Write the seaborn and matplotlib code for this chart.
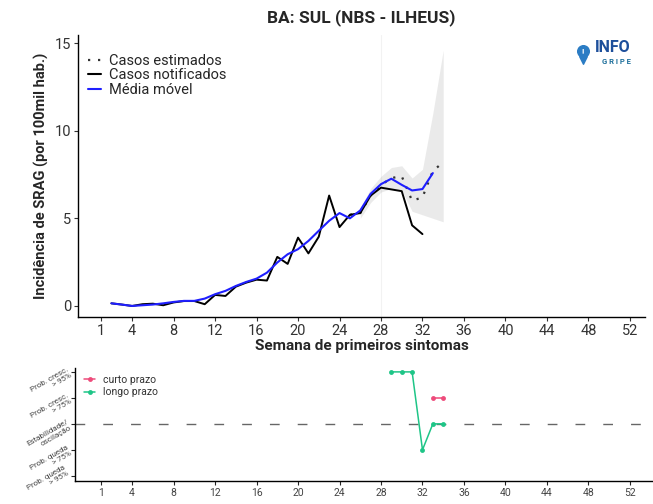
import matplotlib
matplotlib.use("Agg")
import matplotlib.pyplot as plt
from matplotlib.lines import Line2D
import pandas as pd
import seaborn as sns

# --- data ------------------------------------------------------------------
weeks_notif = list(range(2, 33))
casos_notif = [0.15, 0.08, 0.0, 0.1, 0.13, 0.04, 0.2, 0.28, 0.28, 0.1,
               0.63, 0.57, 1.1, 1.33, 1.5, 1.45, 2.8, 2.4, 3.9, 3.0,
               3.95, 6.3, 4.5, 5.2, 5.3, 6.3, 6.75, 6.65, 6.55, 4.6, 4.1]

weeks_mm = list(range(2, 34))
media_movel = [0.15, 0.08, 0.0, 0.04, 0.08, 0.15, 0.23, 0.29, 0.29, 0.42,
               0.67, 0.86, 1.14, 1.37, 1.56, 1.9, 2.48, 2.95, 3.24, 3.71,
               4.29, 4.86, 5.3, 5.0, 5.45, 6.4, 6.95, 7.26, 6.91, 6.59,
               6.67, 7.58]

weeks_est = list(range(25, 35))
casos_est = [5.2, 5.3, 6.3, 6.9, 7.3, 7.4, 6.0, 6.2, 7.7, 8.2]

weeks_ic = list(range(26, 35))
ic_lower = [5.0, 5.9, 6.5, 6.7, 6.6, 5.4, 5.2, 5.0, 4.8]
ic_upper = [5.6, 6.7, 7.4, 7.9, 8.0, 7.3, 7.8, 11.0, 14.6]

x_ticks = [1, 4, 8, 12, 16, 20, 24, 28, 32, 36, 40, 44, 48, 52]
y_ticks = [0, 5, 10, 15]

tend_labels = ["Prob. queda\n> 95%", "Prob. queda\n> 75%",
               "Estabilidade/\noscilação", "Prob. cresc.\n> 75%",
               "Prob. cresc.\n> 95%"]
longo_weeks = [29, 30, 31, 32, 33, 34]
longo_nivel = [5, 5, 5, 2, 3, 3]
curto_weeks = [33, 34]
curto_nivel = [4, 4]

COR_CURTO = "#EE4B7B"
COR_LONGO = "#1EC587"

sns.set_style("ticks")
plt.rcParams["font.family"] = ["Roboto", "DejaVu Sans"]

fig = plt.figure(figsize=(6.53, 5.04), dpi=100)
W, H = 653, 504


def px_axes(left, top, right, bottom):
    return fig.add_axes([left / W, 1 - bottom / H, (right - left) / W, (bottom - top) / H])


# --- main panel --------------------------------------------------------------
ax = px_axes(78, 35, 645, 317)
ax.axvline(28, color="#f2f2f2", lw=0.8, zorder=0)
ax.fill_between(weeks_ic, ic_lower, ic_upper, color="grey", alpha=0.16, lw=0, zorder=1)

df_notif = pd.DataFrame({"semana": weeks_notif, "valor": casos_notif})
df_mm = pd.DataFrame({"semana": weeks_mm, "valor": media_movel})
df_est = pd.DataFrame({"semana": weeks_est, "valor": casos_est})

sns.lineplot(data=df_notif, x="semana", y="valor", ax=ax, color="black", lw=1.4, zorder=3)
sns.lineplot(data=df_mm, x="semana", y="valor", ax=ax, color="#1f1fff", lw=1.5, zorder=4)
sns.lineplot(data=df_est, x="semana", y="valor", ax=ax, color="#333333", lw=1.6,
             linestyle=(0, (1, 3.5)), zorder=2)

ax.set_xlim(-1.22, 53.46)
ax.set_ylim(-0.63, 15.46)
ax.set_xticks(x_ticks)
ax.set_yticks(y_ticks)
ax.tick_params(axis="both", length=3, width=0.8, colors="#333333", labelsize=10.5, pad=2)
sns.despine(ax=ax)
for s in ("left", "bottom"):
    ax.spines[s].set_linewidth(1.0)
    ax.spines[s].set_color("black")
ax.set_xlabel("Semana de primeiros sintomas", fontsize=11, fontweight="bold", labelpad=1)
ax.set_ylabel("Incidência de SRAG (por 100mil hab.)", fontsize=10.5, fontweight="bold", labelpad=4)

handles = [
    Line2D([], [], color="#333333", lw=1.6, linestyle=(0, (1, 3.5))),
    Line2D([], [], color="black", lw=1.5),
    Line2D([], [], color="#1f1fff", lw=1.5),
]
ax.legend(handles, ["Casos estimados", "Casos notificados", "Média móvel"],
          loc="upper left", bbox_to_anchor=(0.0, 0.97), frameon=False,
          fontsize=10.5, handlelength=0.9, handletextpad=0.5, labelspacing=0.05,
          borderaxespad=0.3)

fig.text(361 / W, 1 - 18 / H, "BA: SUL (NBS - ILHEUS)", ha="center", va="center",
         fontsize=12.5, fontweight="bold")

# logo
lax = px_axes(574, 40, 592, 68)
lax.set_xlim(0, 1)
lax.set_ylim(0, 1)
lax.axis("off")
lax.scatter([0.5], [0.6], s=70, color="#2b7cc4", marker="o")
lax.scatter([0.5], [0.3], s=30, color="#2b7cc4", marker="v")
lax.text(0.5, 0.6, "!", ha="center", va="center", color="white", fontsize=6, fontweight="bold")
fig.text(595 / W, 1 - 48 / H, "INFO", ha="left", va="center", fontsize=11.5,
         fontweight="bold", color="#1d4f9b")
fig.text(602 / W, 1 - 62 / H, "G R I P E", ha="left", va="center", fontsize=5.5,
         fontweight="bold", color="#1d6f9b")

# --- trend panel ---------------------------------------------------------------
bx = px_axes(75, 368, 653, 481)
bx.axhline(3, color="#666666", lw=1.0, linestyle=(0, (7, 13)), zorder=1)
df_longo = pd.DataFrame({"semana": longo_weeks, "nivel": longo_nivel})
df_curto = pd.DataFrame({"semana": curto_weeks, "nivel": curto_nivel})
sns.lineplot(data=df_longo, x="semana", y="nivel", ax=bx, color=COR_LONGO, lw=1.1,
             marker="o", markersize=3.5, markeredgewidth=0, zorder=3)
sns.lineplot(data=df_curto, x="semana", y="nivel", ax=bx, color=COR_CURTO, lw=1.1,
             marker="o", markersize=3.5, markeredgewidth=0, zorder=3)
bx.set_xlim(-1.51, 54.23)
bx.set_ylim(0.8, 5.15)
bx.set_xticks(x_ticks)
bx.set_yticks([1, 2, 3, 4, 5])
bx.set_yticklabels(tend_labels, rotation=30, ha="right", va="center",
                   rotation_mode="anchor", multialignment="right")
bx.tick_params(axis="x", length=3, width=0.8, labelsize=7.5, labelcolor="#444444", pad=2)
bx.tick_params(axis="y", length=3, width=0.8, labelsize=5.8, labelcolor="#444444", pad=1)
# keep the lowest label inside the figure
bx.get_yticklabels()[0].set_va("bottom")
sns.despine(ax=bx)
for s in ("left", "bottom"):
    bx.spines[s].set_linewidth(1.0)
    bx.spines[s].set_color("black")
bx.set_xlabel("")
bx.set_ylabel("")

b_handles = [
    Line2D([], [], color=COR_CURTO, lw=1.1, marker="o", markersize=3.5, markeredgewidth=0),
    Line2D([], [], color=COR_LONGO, lw=1.1, marker="o", markersize=3.5, markeredgewidth=0),
]
leg = bx.legend(b_handles, ["curto prazo", "longo prazo"], loc="upper left",
                bbox_to_anchor=(0.0, 1.02), frameon=False, fontsize=7.5,
                handlelength=1.0, handletextpad=0.8, labelspacing=0.2)
for t in leg.get_texts():
    t.set_color("#333333")

fig.savefig("out.png", dpi=100)
